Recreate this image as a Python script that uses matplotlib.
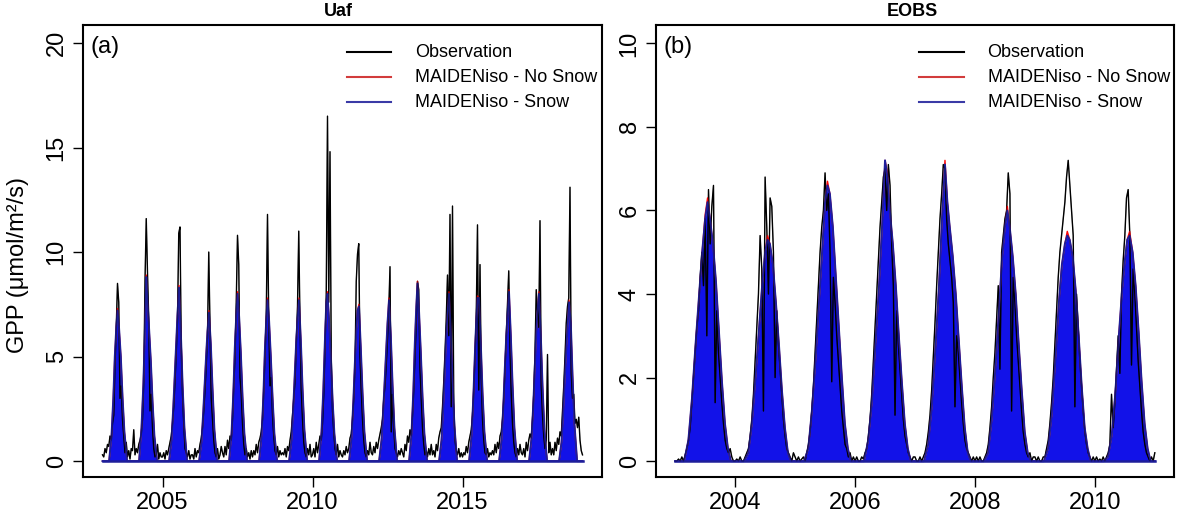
import matplotlib
matplotlib.use("Agg")
import matplotlib.pyplot as plt
from matplotlib.lines import Line2D
import numpy as np

plt.rcParams["font.family"] = ["Liberation Sans", "DejaVu Sans"]

# ---------------- panel (a): Uaf, 2003-2018 ----------------
years_a = list(range(2003, 2019))

# observed GPP, 24 values per year (every ~15 days)
obs_a = [
    [0.3, 0.2, 0.6, 0.4, 0.8, 0.7, 1.2, 1.0, 1.8, 2.2, 4.6, 6.4, 8.5, 7.6, 3.0, 3.6, 2.0, 1.2, 0.4, 0.9, 0.2, 0.5, 0.1, 0.6],
    [0.5, 1.5, 0.3, 0.6, 0.4, 0.8, 1.0, 1.3, 2.0, 3.8, 8.6, 11.6, 9.0, 6.8, 2.4, 3.2, 1.6, 0.6, 0.2, 0.3, 0.8, 0.1, 0.4, 0.2],
    [0.2, 0.4, 0.1, 0.5, 0.3, 0.6, 0.9, 1.2, 1.8, 2.6, 3.8, 5.2, 6.8, 10.9, 11.2, 5.5, 3.2, 1.8, 0.6, 0.4, 0.2, 0.5, 0.1, 0.3],
    [0.3, 0.1, 0.6, 0.2, 0.5, 0.4, 0.8, 1.1, 1.6, 2.4, 3.4, 4.6, 6.0, 10.0, 6.4, 3.0, 2.0, 1.0, 0.4, 0.2, 0.6, 0.1, 0.3, 0.7],
    [0.4, 0.2, 0.7, 0.3, 1.0, 0.6, 1.2, 1.0, 2.0, 3.6, 5.0, 7.6, 10.8, 9.4, 4.0, 3.2, 1.8, 0.8, 0.3, 0.6, 0.2, 0.4, 0.1, 0.5],
    [0.2, 0.5, 0.3, 0.8, 0.4, 0.9, 1.1, 1.4, 2.0, 3.4, 5.0, 7.0, 11.8, 6.8, 3.6, 4.0, 2.2, 1.2, 0.5, 0.3, 0.7, 0.2, 0.5, 0.3],
    [0.4, 0.3, 0.6, 0.2, 0.7, 0.5, 1.0, 1.4, 2.2, 3.0, 3.8, 5.6, 7.4, 11.0, 6.6, 3.4, 2.0, 0.9, 0.4, 0.2, 0.6, 0.3, 0.8, 0.2],
    [0.3, 0.6, 0.2, 0.9, 0.4, 0.8, 1.2, 1.0, 1.8, 3.2, 5.4, 8.0, 16.5, 7.6, 14.8, 5.0, 2.4, 1.4, 0.6, 0.3, 0.8, 0.2, 0.5, 0.3],
    [0.2, 0.5, 0.3, 0.7, 0.4, 0.6, 1.1, 1.3, 2.0, 3.0, 4.6, 8.6, 9.9, 10.4, 5.0, 3.4, 2.0, 1.0, 0.4, 0.2, 0.5, 0.3, 0.9, 0.4],
    [0.3, 0.7, 0.4, 0.9, 0.6, 1.0, 1.3, 1.6, 2.0, 3.0, 3.6, 4.6, 5.8, 7.2, 9.3, 1.4, 3.2, 1.6, 0.6, 0.4, 0.2, 0.5, 0.3, 0.6],
    [0.4, 0.2, 0.8, 0.5, 1.2, 0.9, 1.5, 1.2, 2.2, 3.4, 5.0, 6.6, 8.6, 8.2, 4.4, 3.0, 1.6, 0.8, 0.3, 0.5, 0.2, 0.6, 0.3, 0.8],
    [0.3, 0.5, 0.2, 0.8, 0.5, 1.1, 1.4, 1.6, 2.6, 3.8, 5.2, 6.8, 8.9, 6.0, 11.8, 2.6, 12.2, 2.8, 1.0, 0.5, 0.3, 0.6, 0.2, 0.4],
    [0.2, 0.4, 0.3, 0.7, 0.4, 0.9, 1.2, 1.5, 2.2, 3.4, 5.0, 7.0, 11.3, 3.4, 9.4, 4.0, 2.0, 1.0, 0.4, 0.3, 0.6, 0.2, 0.4, 0.3],
    [0.5, 0.3, 0.8, 0.4, 0.9, 0.6, 1.2, 1.4, 2.0, 3.0, 4.4, 6.0, 7.6, 9.1, 5.4, 3.2, 1.8, 0.9, 0.4, 0.2, 0.6, 0.3, 0.8, 0.4],
    [0.3, 0.6, 0.2, 0.9, 0.5, 1.0, 1.3, 1.1, 2.0, 3.2, 5.2, 8.2, 7.0, 6.4, 11.5, 3.6, 2.2, 1.2, 0.6, 1.0, 5.1, 0.4, 0.9, 0.3],
    [0.6, 0.3, 0.9, 0.5, 1.1, 0.8, 1.4, 1.2, 2.4, 3.6, 5.0, 6.6, 7.4, 7.8, 13.1, 4.2, 3.0, 3.2, 1.8, 2.0, 1.6, 2.1, 1.0, 0.5],
]
obs_a_end = 0.3

# model season points (fraction of year)
model_frac_a = [0.22, 0.30, 0.36, 0.41, 0.46, 0.50, 0.55, 0.61, 0.67, 0.73, 0.82]

# MAIDENiso - Snow: upper edge of the daily values
snow_a = [
    [0, 1.2, 3.0, 5.0, 6.4, 7.2, 6.4, 5.0, 3.0, 1.4, 0],
    [0, 1.6, 3.6, 6.0, 8.8, 7.6, 6.4, 4.8, 2.8, 1.2, 0],
    [0, 1.0, 2.6, 4.2, 5.8, 7.0, 8.3, 6.2, 3.6, 1.6, 0],
    [0, 0.9, 2.4, 3.8, 5.2, 6.2, 7.1, 5.6, 3.4, 1.5, 0],
    [0, 1.3, 3.2, 5.4, 7.0, 8.0, 7.0, 5.2, 3.0, 1.3, 0],
    [0, 1.2, 3.0, 5.2, 6.8, 7.7, 6.8, 5.0, 3.0, 1.3, 0],
    [0, 1.0, 2.6, 4.2, 5.8, 6.8, 7.7, 5.8, 3.4, 1.5, 0],
    [0, 1.4, 3.4, 5.6, 7.6, 8.0, 6.8, 5.0, 2.9, 1.3, 0],
    [0, 1.1, 2.8, 4.6, 6.2, 7.2, 7.4, 5.4, 3.2, 1.4, 0],
    [0, 1.0, 2.5, 4.0, 5.6, 6.6, 7.7, 6.0, 3.6, 1.6, 0],
    [0, 1.3, 3.3, 5.6, 7.4, 8.5, 7.2, 5.2, 3.0, 1.3, 0],
    [0, 1.0, 2.6, 4.3, 6.0, 7.0, 8.0, 6.2, 3.8, 1.7, 0],
    [0, 1.2, 3.0, 5.0, 6.8, 7.8, 7.8, 5.6, 3.2, 1.4, 0],
    [0, 1.0, 2.6, 4.4, 6.0, 7.0, 8.1, 6.0, 3.6, 1.6, 0],
    [0, 1.1, 2.7, 4.5, 6.2, 7.2, 8.0, 6.0, 3.5, 1.5, 0],
    [0, 0.9, 2.4, 4.0, 5.4, 6.4, 7.6, 6.6, 4.0, 1.8, 0],
]
# MAIDENiso - No Snow (almost identical, mostly hidden)
nosnow_a = [
    [0, 1.2, 3.0, 5.0, 6.4, 7.3, 6.4, 5.0, 3.0, 1.4, 0],
    [0, 1.6, 3.6, 6.0, 8.9, 7.6, 6.4, 4.8, 2.8, 1.2, 0],
    [0, 1.0, 2.6, 4.2, 5.8, 7.0, 8.4, 6.2, 3.6, 1.6, 0],
    [0, 0.9, 2.4, 3.8, 5.2, 6.2, 7.2, 5.6, 3.4, 1.5, 0],
    [0, 1.3, 3.2, 5.4, 7.0, 8.1, 7.0, 5.2, 3.0, 1.3, 0],
    [0, 1.2, 3.0, 5.2, 6.8, 7.8, 6.8, 5.0, 3.0, 1.3, 0],
    [0, 1.0, 2.6, 4.2, 5.8, 6.8, 7.8, 5.8, 3.4, 1.5, 0],
    [0, 1.4, 3.4, 5.6, 7.6, 8.1, 6.8, 5.0, 2.9, 1.3, 0],
    [0, 1.1, 2.8, 4.6, 6.2, 7.2, 7.5, 5.4, 3.2, 1.4, 0],
    [0, 1.0, 2.5, 4.0, 5.6, 6.6, 7.8, 6.0, 3.6, 1.6, 0],
    [0, 1.3, 3.3, 5.6, 7.4, 8.6, 7.2, 5.2, 3.0, 1.3, 0],
    [0, 1.0, 2.6, 4.3, 6.0, 7.0, 8.1, 6.2, 3.8, 1.7, 0],
    [0, 1.2, 3.0, 5.0, 6.8, 7.9, 7.8, 5.6, 3.2, 1.4, 0],
    [0, 1.0, 2.6, 4.4, 6.0, 7.0, 8.2, 6.0, 3.6, 1.6, 0],
    [0, 1.1, 2.7, 4.5, 6.2, 7.2, 8.1, 6.0, 3.5, 1.5, 0],
    [0, 0.9, 2.4, 4.0, 5.4, 6.4, 7.7, 6.6, 4.0, 1.8, 0],
]

# ---------------- panel (b): EOBS, 2003-2010 ----------------
years_b = list(range(2003, 2011))

# observed GPP, 36 values per year (every ~10 days)
obs_b = [
    [0.0, 0.0, 0.05, 0.0, 0.1, 0.0, 0.15, 0.3, 0.5, 0.8, 1.4, 2.0, 2.6, 3.2, 3.6, 4.4, 5.0, 4.2, 5.8, 3.0, 6.5, 5.2, 6.1, 6.6, 1.4, 3.6, 2.6, 2.0, 1.4, 0.9, 0.5, 0.3, 0.2, 0.3, 0.1, 0.0],
    [0.0, 0.05, 0.0, 0.1, 0.0, 0.0, 0.1, 0.2, 0.3, 0.6, 1.0, 1.6, 2.4, 3.2, 4.0, 5.4, 4.6, 1.2, 6.8, 5.6, 4.0, 6.3, 6.1, 5.0, 2.0, 3.6, 2.8, 2.2, 1.6, 1.0, 0.6, 0.3, 0.2, 0.1, 0.0, 0.2],
    [0.1, 0.0, 0.1, 0.0, 0.05, 0.1, 0.0, 0.2, 0.4, 0.7, 1.2, 1.8, 2.6, 3.4, 4.2, 5.0, 5.6, 6.0, 6.9, 6.0, 6.4, 5.0, 1.9, 4.4, 3.8, 3.0, 2.4, 1.8, 1.2, 0.8, 0.4, 0.3, 0.1, 0.2, 0.0, 0.1],
    [0.0, 0.1, 0.0, 0.0, 0.1, 0.05, 0.2, 0.3, 0.6, 1.0, 1.6, 2.4, 3.2, 4.0, 4.8, 5.6, 6.2, 6.8, 7.0, 6.0, 7.1, 6.6, 5.2, 4.2, 1.1, 3.6, 2.8, 2.2, 1.6, 1.0, 0.6, 0.4, 0.2, 0.1, 0.0, 0.1],
    [0.1, 0.0, 0.0, 0.1, 0.0, 0.1, 0.2, 0.4, 0.7, 1.1, 1.7, 2.5, 3.3, 4.2, 5.0, 5.8, 6.4, 7.1, 7.0, 5.8, 5.2, 4.8, 4.4, 3.8, 1.3, 3.0, 2.6, 2.0, 1.4, 0.9, 0.5, 0.3, 0.2, 0.1, 0.0, 0.1],
    [0.0, 0.1, 0.0, 0.1, 0.0, 0.0, 0.1, 0.2, 0.4, 0.8, 1.3, 2.0, 2.6, 3.4, 4.2, 2.2, 5.0, 5.4, 5.8, 6.0, 6.9, 6.4, 1.2, 4.4, 3.8, 3.0, 2.4, 1.8, 1.2, 0.7, 0.4, 0.2, 0.1, 0.2, 0.0, 0.1],
    [0.1, 0.0, 0.1, 0.0, 0.0, 0.1, 0.1, 0.3, 0.5, 0.9, 1.4, 2.0, 2.8, 3.6, 4.4, 5.0, 5.4, 5.8, 6.2, 6.8, 7.2, 6.6, 6.0, 5.4, 1.3, 4.0, 3.2, 2.4, 1.8, 1.2, 0.7, 0.4, 0.2, 0.1, 0.0, 0.1],
    [0.0, 0.1, 0.0, 0.05, 0.0, 0.1, 0.0, 0.1, 0.2, 0.4, 1.6, 0.8, 1.4, 2.2, 3.0, 2.1, 4.0, 4.8, 5.4, 6.3, 6.5, 5.4, 2.3, 4.6, 4.0, 3.2, 2.4, 1.8, 1.2, 0.7, 0.4, 0.2, 0.1, 0.0, 0.1, 0.0],
]
obs_b_end = 0.2

model_frac_b = [0.15, 0.22, 0.28, 0.34, 0.40, 0.45, 0.50, 0.54, 0.58, 0.63, 0.68, 0.73, 0.78, 0.83, 0.88, 0.93]

snow_b = [
    [0, 0.5, 1.5, 2.8, 4.0, 5.0, 5.8, 6.2, 5.8, 5.2, 4.3, 3.1, 1.9, 0.9, 0.3, 0],
    [0, 0.2, 0.9, 2.0, 3.2, 4.2, 5.0, 5.3, 5.2, 4.7, 3.8, 2.8, 1.7, 0.8, 0.2, 0],
    [0, 0.3, 1.2, 2.4, 3.8, 5.0, 6.2, 6.6, 6.4, 5.6, 4.4, 3.2, 2.0, 0.9, 0.3, 0],
    [0, 0.5, 1.4, 2.8, 4.2, 5.6, 7.2, 6.8, 6.0, 5.2, 4.2, 3.0, 1.9, 0.9, 0.3, 0],
    [0, 0.4, 1.3, 2.7, 4.2, 5.8, 7.1, 6.2, 5.6, 4.9, 4.0, 2.9, 1.8, 0.8, 0.2, 0],
    [0, 0.2, 1.0, 2.2, 3.6, 4.8, 5.6, 6.0, 5.6, 4.9, 4.0, 2.8, 1.7, 0.7, 0.2, 0],
    [0, 0.3, 1.1, 2.4, 3.8, 4.7, 5.2, 5.4, 5.3, 4.9, 4.1, 3.0, 1.8, 0.8, 0.3, 0],
    [0, 0.1, 0.6, 1.6, 3.0, 4.0, 4.8, 5.3, 5.4, 5.0, 4.2, 3.1, 1.9, 0.9, 0.3, 0],
]
nosnow_b = [
    [0, 0.5, 1.5, 2.8, 4.0, 5.0, 5.9, 6.3, 5.8, 5.2, 4.3, 3.1, 1.9, 0.9, 0.3, 0],
    [0, 0.2, 0.9, 2.0, 3.2, 4.2, 5.0, 5.4, 5.2, 4.7, 3.8, 2.8, 1.7, 0.8, 0.2, 0],
    [0, 0.3, 1.2, 2.4, 3.8, 5.0, 6.2, 6.7, 6.4, 5.6, 4.4, 3.2, 2.0, 0.9, 0.3, 0],
    [0, 0.5, 1.4, 2.8, 4.2, 5.6, 7.2, 6.9, 6.0, 5.2, 4.2, 3.0, 1.9, 0.9, 0.3, 0],
    [0, 0.4, 1.3, 2.7, 4.2, 5.8, 7.2, 6.2, 5.6, 4.9, 4.0, 2.9, 1.8, 0.8, 0.2, 0],
    [0, 0.2, 1.0, 2.2, 3.6, 4.8, 5.6, 6.1, 5.6, 4.9, 4.0, 2.8, 1.7, 0.7, 0.2, 0],
    [0, 0.3, 1.1, 2.4, 3.8, 4.7, 5.2, 5.5, 5.3, 4.9, 4.1, 3.0, 1.8, 0.8, 0.3, 0],
    [0, 0.1, 0.6, 1.6, 3.0, 4.0, 4.8, 5.3, 5.5, 5.0, 4.2, 3.1, 1.9, 0.9, 0.3, 0],
]

legend_labels = ["Observation", "MAIDENiso - No Snow", "MAIDENiso - Snow"]

BLUE = "#1212e8"
BLUE_EDGE = "#1e1e9a"


def season_series(years, fracs, rows):
    """Season points of every year, joined by the zero line in winter."""
    t = [years[0]]
    v = [0.0]
    for y, row in zip(years, rows):
        t += [y + f for f in fracs]
        v += list(row)
    t.append(years[-1] + 1)
    v.append(0.0)
    return np.array(t), np.array(v, dtype=float)


def obs_series(years, rows, end_val):
    t, v = [], []
    for y, row in zip(years, rows):
        n = len(row)
        t += [y + k / n for k in range(n)]
        v += list(row)
    t.append(years[-1] + 1)
    v.append(end_val)
    return np.array(t), np.array(v, dtype=float)


def draw_panel(ax, years, obs, obs_end, fracs, snow, red):
    t_o, v_o = obs_series(years, obs, obs_end)
    ax.plot(t_o, v_o, color="black", lw=1.0)
    t_m, v_red = season_series(years, fracs, red)
    ax.plot(t_m, v_red, color="red", lw=1.0)
    _, v_snow = season_series(years, fracs, snow)
    ax.fill_between(t_m, 0, v_snow, color=BLUE, lw=0)
    ax.plot(t_m, v_snow, color=BLUE_EDGE, lw=1.4)
    ax.plot([years[0], years[-1] + 1], [0, 0], color=BLUE_EDGE, lw=1.8)
    # faint trace of the observations showing through the dense model band
    ax.plot(t_o, v_o, color="black", lw=0.7, alpha=0.35)


def style_axes(ax, xticks, yticks, xlim, ylim, tag):
    ax.set_xlim(*xlim)
    ax.set_ylim(*ylim)
    ax.set_xticks(xticks)
    ax.set_yticks(yticks)
    ax.set_xticklabels([str(x) for x in xticks])
    ax.set_yticklabels([str(y) for y in yticks], rotation=90, va="center")
    ax.tick_params(direction="out", length=7, width=1.0, labelsize=17, pad=4)
    for sp in ax.spines.values():
        sp.set_linewidth(1.5)
    ax.text(0.014, 0.951, tag, transform=ax.transAxes, fontsize=17,
            ha="left", va="center")
    colors = ["black", "#d23c3c", "#3a3aa6"]
    for i, (lab, c) in enumerate(zip(legend_labels, colors)):
        yy = 0.940 - i * 0.0553
        ax.add_line(Line2D([0.508, 0.594], [yy, yy], transform=ax.transAxes,
                           color=c, lw=1.5))
        ax.text(0.640, yy, lab, transform=ax.transAxes, fontsize=13,
                ha="left", va="center")


fig = plt.figure(figsize=(11.84, 5.21), dpi=100)
W, H = 1184, 521
ax_a = fig.add_axes([83 / W, 1 - 477 / H, (602 - 83) / W, (477 - 25) / H])
ax_b = fig.add_axes([656 / W, 1 - 477 / H, (1174 - 656) / W, (477 - 25) / H])

draw_panel(ax_a, years_a, obs_a, obs_a_end, model_frac_a, snow_a, nosnow_a)
draw_panel(ax_b, years_b, obs_b, obs_b_end, model_frac_b, snow_b, nosnow_b)

style_axes(ax_a, [2005, 2010, 2015], [0, 5, 10, 15, 20],
           (2002.35, 2019.65), (-0.76, 20.86), "(a)")
style_axes(ax_b, [2004, 2006, 2008, 2010], [0, 2, 4, 6, 8, 10],
           (2002.68, 2011.32), (-0.38, 10.44), "(b)")

fig.text(338 / W, 1 - 12 / H, "Uaf", fontsize=13, fontweight="bold", ha="center", va="center")
fig.text(912 / W, 1 - 12 / H, "EOBS", fontsize=13, fontweight="bold", ha="center", va="center")
fig.text(18 / W, 1 - 265 / H, "GPP (μmol/m²/s)", fontsize=17, rotation=90,
         ha="center", va="center")

fig.savefig("out.png", dpi=100)
